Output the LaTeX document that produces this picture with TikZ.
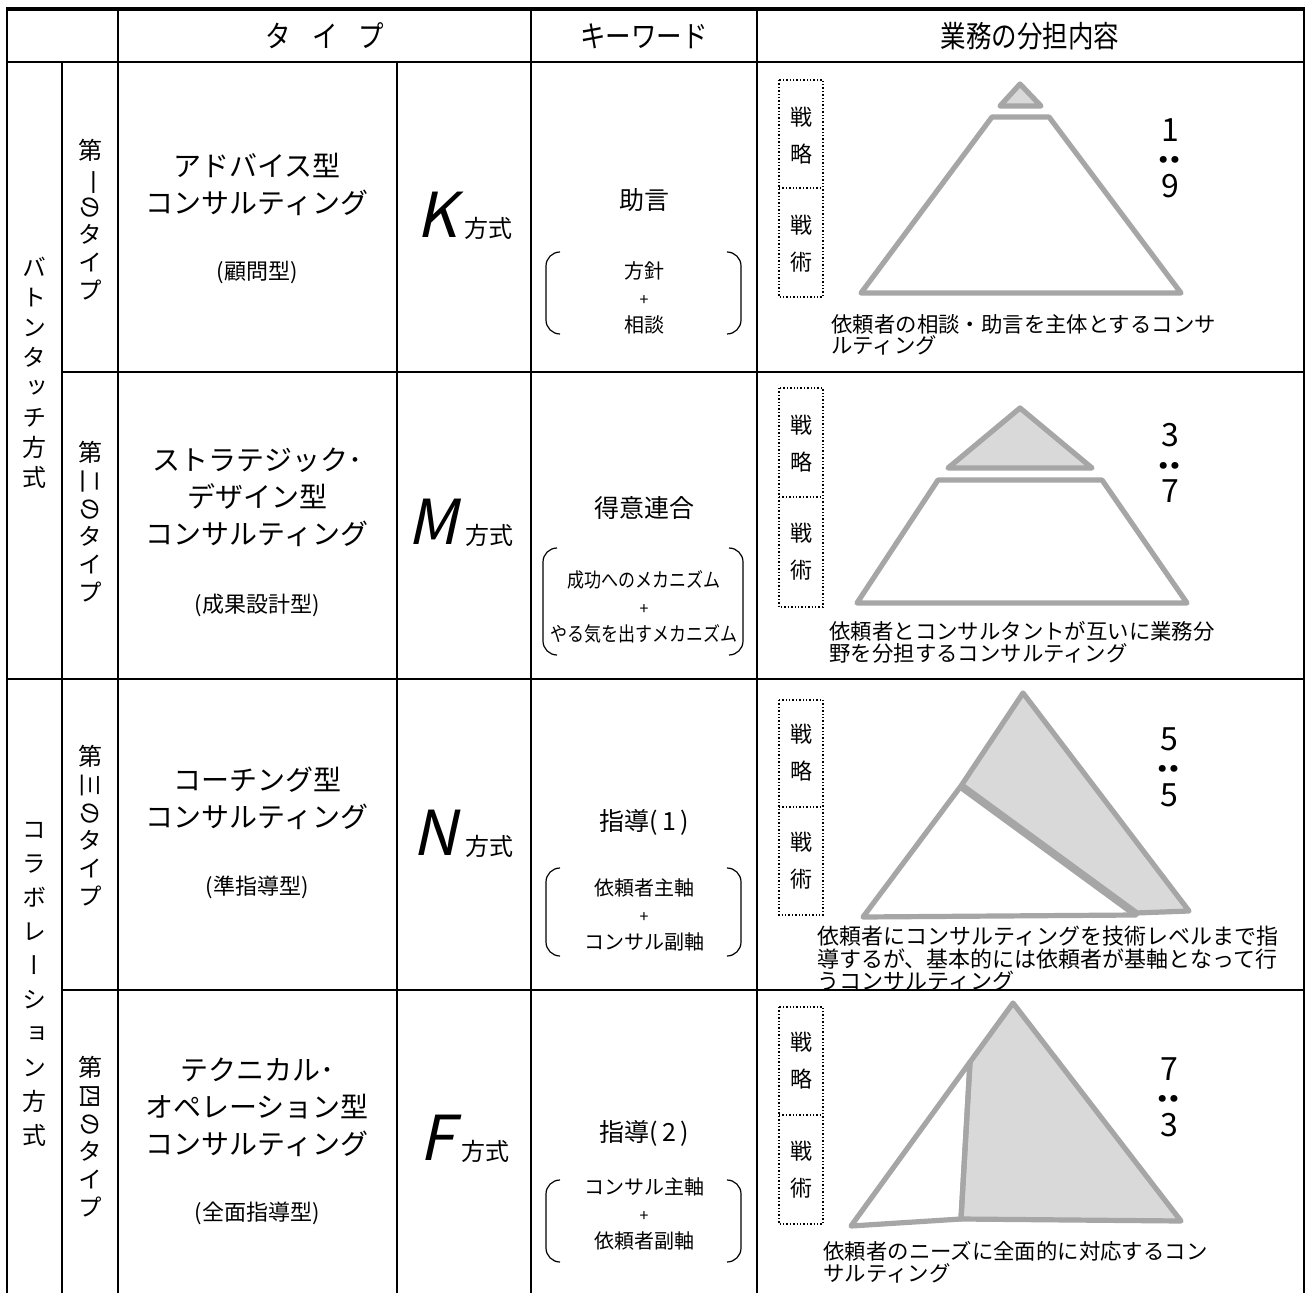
\documentclass[tikz,border=0pt]{standalone}
\usepackage{fontspec}
\usepackage{graphicx}
\setmainfont{Noto Sans CJK JP}
\newfontfamily\narrowjp[FakeStretch=0.85]{Noto Sans CJK JP}
\newfontfamily\slantjp[FakeSlant=0.22]{Noto Sans CJK JP}
\newfontfamily\tatejp[RawFeature={+vert}]{Noto Sans CJK JP}
\usetikzlibrary{positioning}
\definecolor{pyrgray}{HTML}{A6A6A6}
\definecolor{pyrfill}{HTML}{D9D9D9}
\newcommand{\tate}[1]{\rotatebox[origin=c]{-90}{#1}}
\newcommand{\fsz}[2]{\fontsize{#1}{#2}\selectfont}

\begin{document}
\begin{tikzpicture}[x=0.5pt,y=-0.5pt,
		rule/.style={line width=1.1pt},
		pyr/.style={draw=pyrgray,line width=2.6pt,line join=round},
		dotbox/.style={densely dotted,line width=0.7pt},
		bracket/.style={line width=0.6pt,rounded corners=7pt},
		head/.style={inner sep=0pt,font=\narrowjp\fsz{15}{18}},
		vtext/.style={align=center,inner sep=0pt,font=\tatejp\fsz{12}{14}},
		tname/.style={align=center,inner sep=0pt,font=\fsz{14}{18.5}},
		tsub/.style={inner sep=0pt,font=\fsz{11}{13}},
		letter/.style={inner sep=0pt,anchor=base,font=\slantjp\fsz{31}{31}},
		houshiki/.style={inner sep=0pt,anchor=base west,font=\fsz{12}{12}},
		kword/.style={inner sep=0pt,font=\fsz{12.5}{15}},
		ksub/.style={align=center,inner sep=0pt,font=\fsz{10}{13.5}},
		tactic/.style={align=center,inner sep=0pt,font=\fsz{11}{18.5}},
		ratio/.style={align=center,inner sep=0pt,font=\fsz{16}{14}},
		desc/.style={align=left,anchor=north west,inner sep=0pt,font=\fsz{10.7}{10.8}}]
	\fill[white] (0,0) rectangle (1305,1293);
	\useasboundingbox (0,0) rectangle (1305,1293);
	
	% header
	\node[head] (hdType) at (325,36) {タ\hspace{0.7em}イ\hspace{0.7em}プ};
	\node[head] (hdKey)  at (644,36) {キーワード};
	\node[head] (hdWork) at (1030,36) {業務の分担内容};
	
	% groups and types
	\node[vtext,font=\tatejp\fsz{12}{15}] (baton)  at (34,373) {バ\\ト\\ン\\タ\\ッ\\チ\\方\\式};
	\node[vtext,font=\tatejp\fsz{12}{17}] (collab) at (34,984) {コ\\ラ\\ボ\\レ\\ー\\シ\\ョ\\ン\\方\\式};
	\node[vtext] (type1) at (90,220)  {第\\\tate{一}\\\tate{の}\\タ\\イ\\プ};
	\node[vtext] (type2) at (90,522)  {第\\\tate{二}\\\tate{の}\\タ\\イ\\プ};
	\node[vtext] (type3) at (90,826)  {第\\\tate{三}\\\tate{の}\\タ\\イ\\プ};
	\node[vtext] (type4) at (90,1137) {第\\\tate{四}\\\tate{の}\\タ\\イ\\プ};
	
	\node[tname] (advice)  at (257,184)  {アドバイス型\\コンサルティング};
	\node[tsub]  (adviceS) at (257,272)  {(顧問型)};
	\node[tname] (design)  at (257,497)  {ストラテジック･\\デザイン型\\コンサルティング};
	\node[tsub]  (designS) at (257,605)  {(成果設計型)};
	\node[tname] (coach)   at (257,798)  {コーチング型\\コンサルティング};
	\node[tsub]  (coachS)  at (257,887)  {(準指導型)};
	\node[tname] (techop)  at (257,1107) {テクニカル･\\オペレーション型\\コンサルティング};
	\node[tsub]  (techopS) at (257,1213) {(全面指導型)};
	
	% methods
	\node[letter] (letK) at (437,238) {K};
	\node[houshiki,right=3.5pt of letK.base east,anchor=base west] (methodK) {方式};
	\node[letter] (letM) at (433,545) {M};
	\node[houshiki,right=3.5pt of letM.base east,anchor=base west] (methodM) {方式};
	\node[letter] (letN) at (435,855) {N};
	\node[houshiki,right=3.5pt of letN.base east,anchor=base west] (methodN) {方式};
	\node[letter] (letF) at (437,1160) {F};
	\node[houshiki,right=3.5pt of letF.base east,anchor=base west] (methodF) {方式};
	
	% keywords
	\node[kword] (kw1) at (644,200) {助言};
	\node[ksub] (kw1sub) at (644,298) {方針\\{\fsz{8}{8}+}\\相談};
	\draw[bracket] (560,252) -- (546,252) -- (546,334) -- (560,334);
	\draw[bracket] (727,252) -- (741,252) -- (741,334) -- (727,334);
	
	\node[kword] (kw2) at (644,508) {得意連合};
	\node[ksub] (kw2sub) at (644,607) {{\narrowjp 成功へのメカニズム}\\{\fsz{8}{8}+}\\{\narrowjp やる気を出すメカニズム}};
	\draw[bracket] (557,548) -- (543,548) -- (543,655) -- (557,655);
	\draw[bracket] (729,548) -- (743,548) -- (743,655) -- (729,655);
	
	\node[kword] (kw3) at (644,822) {指導(\,1\,)};
	\node[ksub] (kw3sub) at (644,915) {依頼者主軸\\{\fsz{8}{8}+}\\コンサル副軸};
	\draw[bracket] (560,868) -- (546,868) -- (546,956) -- (560,956);
	\draw[bracket] (727,868) -- (741,868) -- (741,956) -- (727,956);
	
	\node[kword] (kw4) at (644,1133) {指導(\,2\,)};
	\node[ksub] (kw4sub) at (644,1214) {コンサル主軸\\{\fsz{8}{8}+}\\依頼者副軸};
	\draw[bracket] (560,1180) -- (546,1180) -- (546,1262) -- (560,1262);
	\draw[bracket] (727,1180) -- (741,1180) -- (741,1262) -- (727,1262);
	
	% row 1 pyramid
	\draw[dotbox] (779,80) rectangle (823,297) (779,188) -- (823,188);
	\node[tactic] (strat1) at (801,136) {戦\\略};
	\node[tactic] (tact1)  at (801,244) {戦\\術};
	\filldraw[pyr,fill=pyrfill] (1020,84) -- (1041,106) -- (1000,106) -- cycle;
	\draw[pyr] (992,117) -- (1049,117) -- (1181,293) -- (861,293) -- cycle;
	\node[ratio] (ratio1) at (1170,158) {1\\\rotatebox[origin=c]{90}{\bfseries :}\\9};
	\node[desc] (desc1) at (831,314) {依頼者の相談・助言を主体とするコンサ\\ルティング};
	
	% row 2 pyramid
	\draw[dotbox] (779,388) rectangle (823,607) (779,497) -- (823,497);
	\node[tactic] (strat2) at (801,444) {戦\\略};
	\node[tactic] (tact2)  at (801,552) {戦\\術};
	\filldraw[pyr,fill=pyrfill] (1020,408) -- (1092,468) -- (948,468) -- cycle;
	\draw[pyr] (938,480) -- (1102,480) -- (1187,603) -- (857,603) -- cycle;
	\node[ratio] (ratio2) at (1170,463) {3\\\rotatebox[origin=c]{90}{\bfseries :}\\7};
	\node[desc] (desc2) at (829,621) {依頼者とコンサルタントが互いに業務分\\野を分担するコンサルティング};
	
	% row 3 pyramid
	\draw[dotbox] (779,700) rectangle (823,915) (779,807) -- (823,807);
	\node[tactic] (strat3) at (801,753) {戦\\略};
	\node[tactic] (tact3)  at (801,861) {戦\\術};
	\filldraw[pyr,fill=pyrfill] (1023,693) -- (1189,911) -- (1136,913) -- (961,786) -- cycle;
	\draw[pyr] (961,786) -- (1136,915) -- (863,917) -- cycle;
	\draw[pyr,line width=4pt] (961,786) -- (1136,914);
	\node[ratio] (ratio3) at (1169,767) {5\\\rotatebox[origin=c]{90}{\bfseries :}\\5};
	\node[desc,font=\fsz{11}{9.5}] (desc3) at (817,926) {依頼者にコンサルティングを技術レベルまで指\\導するが、基本的には依頼者が基軸となって行\\うコンサルティング};
	
	% row 4 pyramid
	\draw[dotbox] (779,1007) rectangle (823,1224) (779,1115) -- (823,1115);
	\node[tactic] (strat4) at (801,1061) {戦\\略};
	\node[tactic] (tact4)  at (801,1170) {戦\\術};
	\filldraw[pyr,fill=pyrfill] (1013,1003) -- (1181,1221) -- (961,1219) -- (970,1062) -- cycle;
	\draw[pyr] (970,1062) -- (961,1219) -- (851,1226) -- cycle;
	\node[ratio] (ratio4) at (1169,1097) {7\\\rotatebox[origin=c]{90}{\bfseries :}\\3};
	\node[desc] (desc4) at (823,1241) {依頼者のニーズに全面的に対応するコン\\サルティング};
	
	% table rules
	\draw[rule,line width=1.6pt] (6,9) -- (1305,9);
	\foreach \x in {7,118,531,757,1304}
		\draw[rule] (\x,9) -- (\x,1293);
	\foreach \x in {62,397}
		\draw[rule] (\x,62) -- (\x,1293);
	\draw[rule] (7,62) -- (1304,62);
	\draw[rule] (62,372) -- (1304,372);
	\draw[rule] (7,679) -- (1304,679);
	\draw[rule] (62,990) -- (1304,990);
\end{tikzpicture}
\end{document}
